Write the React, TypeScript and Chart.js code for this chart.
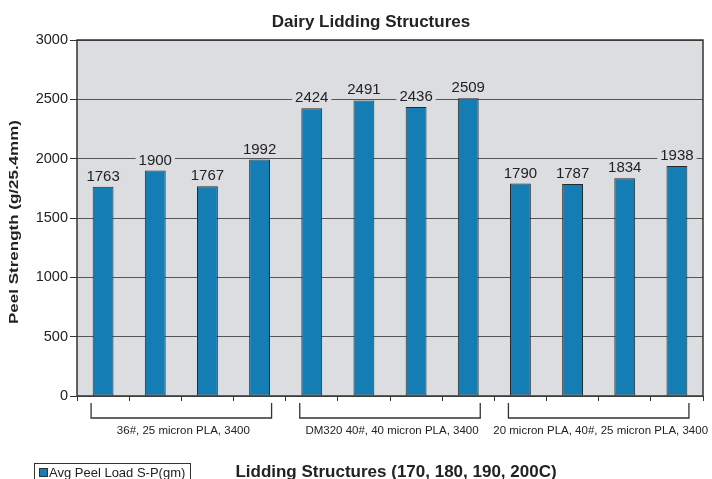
import React, { useEffect, useRef } from "react";
import { Chart, registerables } from "chart.js";

Chart.register(...registerables);

// ---- data ----
const chartTitle = "Dairy Lidding Structures";
const yAxisTitle = "Peel Strength (g/25.4mm)";
const xAxisTitle = "Lidding Structures (170, 180, 190, 200C)";
const seriesName = "Avg Peel Load S-P(gm)";
const groupNames = [
  "36#, 25 micron PLA, 3400",
  "DM320 40#, 40 micron PLA, 3400",
  "20 micron PLA, 40#, 25 micron PLA, 3400",
];
const temperatures = ["170", "180", "190", "200"];
const peelLoad = [1763, 1900, 1767, 1992, 2424, 2491, 2436, 2509, 1790, 1787, 1834, 1938];
const yMin = 0;
const yMax = 3000;
const yStep = 500;

// ---- style ----
const FONT = "'Liberation Sans', Arial, Helvetica, sans-serif";
const BAR = "#137db4";
const BAR_EDGE = "#2a2a2a";
const PLOT_BG = "#dcdde0";
const TEXT = "#222222";
const LINE = "#333333";

const categories = groupNames.flatMap((g) => temperatures.map((t) => `${g} ${t}C`));

const decor = {
  id: "decor",
  beforeDraw(chart: any) {
    const { ctx, chartArea: a } = chart;
    ctx.save();
    ctx.fillStyle = PLOT_BG;
    ctx.fillRect(a.left, a.top, a.right - a.left, a.bottom - a.top);
    ctx.restore();
  },
  afterDatasetsDraw(chart: any) {
    const { ctx } = chart;
    const meta = chart.getDatasetMeta(0);
    ctx.save();
    ctx.font = `15px ${FONT}`;
    ctx.textAlign = "center";
    ctx.textBaseline = "alphabetic";
    meta.data.forEach((el: any, i: number) => {
      const txt = String(chart.data.datasets[0].data[i]);
      const w = ctx.measureText(txt).width;
      const by = el.y - 6;
      ctx.fillStyle = PLOT_BG;
      ctx.fillRect(el.x - w / 2 - 3, by - 12, w + 6, 15);
      ctx.fillStyle = TEXT;
      ctx.fillText(txt, el.x, by);
    });
    ctx.restore();
  },
  afterDraw(chart: any) {
    const { ctx, chartArea: a } = chart;
    const xs = chart.scales.x;
    ctx.save();
    // plot border
    ctx.strokeStyle = LINE;
    ctx.lineWidth = 1.5;
    ctx.strokeRect(a.left, a.top, a.right - a.left, a.bottom - a.top);

    // title
    ctx.fillStyle = TEXT;
    ctx.font = `bold 17px ${FONT}`;
    ctx.textAlign = "center";
    ctx.textBaseline = "alphabetic";
    ctx.fillText(chartTitle, 371, 27);

    // y axis title (stretched along its length as in the reference)
    ctx.save();
    ctx.font = `bold 12px ${FONT}`;
    const yw = ctx.measureText(yAxisTitle).width;
    ctx.translate(17.5, 222);
    ctx.rotate(-Math.PI / 2);
    ctx.scale(204 / yw, 1);
    ctx.fillText(yAxisTitle, 0, 0);
    ctx.restore();

    // group brackets and labels
    ctx.strokeStyle = LINE;
    ctx.lineWidth = 1.3;
    groupNames.forEach((g, gi) => {
      const first = gi * temperatures.length;
      const last = first + temperatures.length - 1;
      const x0 = xs.getPixelForValue(first) - 12;
      const x1 = xs.getPixelForValue(last) + 12;
      ctx.beginPath();
      ctx.moveTo(x0, 403);
      ctx.lineTo(x0, 418);
      ctx.lineTo(x1, 418);
      ctx.lineTo(x1, 403);
      ctx.stroke();
      ctx.font = `11.5px ${FONT}`;
      ctx.fillStyle = TEXT;
      ctx.textAlign = "center";
      ctx.fillText(g, (x0 + x1) / 2 + 2, 434);
    });

    // x axis title
    ctx.font = `bold 17px ${FONT}`;
    ctx.textAlign = "center";
    ctx.fillText(xAxisTitle, 396, 477);

    // legend
    ctx.lineWidth = 1;
    ctx.strokeStyle = LINE;
    ctx.strokeRect(34.5, 463.5, 156, 20);
    ctx.fillStyle = BAR;
    ctx.fillRect(39.5, 468.5, 8, 8);
    ctx.strokeRect(39.5, 468.5, 8, 8);
    ctx.fillStyle = TEXT;
    ctx.font = `13px ${FONT}`;
    ctx.textAlign = "left";
    ctx.fillText(seriesName, 49, 477);
    ctx.restore();
  },
};

export default function App() {
  const canvasRef = useRef<HTMLCanvasElement | null>(null);

  useEffect(() => {
    if (!canvasRef.current) return;
    const chart = new Chart(canvasRef.current, {
      type: "bar",
      data: {
        labels: categories,
        datasets: [
          {
            label: seriesName,
            data: peelLoad,
            backgroundColor: BAR,
            borderColor: BAR_EDGE,
            borderWidth: 1,
            borderSkipped: false,
            barPercentage: 0.4,
            categoryPercentage: 1,
          },
        ],
      },
      options: {
        animation: false,
        responsive: true,
        maintainAspectRatio: false,
        layout: { padding: { left: 0, top: 40, right: 9, bottom: 0 } },
        plugins: {
          legend: { display: false },
          title: { display: false },
          tooltip: { enabled: false },
        },
        scales: {
          x: {
            afterFit: (scale: any) => {
              scale.height = 83;
            },
            ticks: { display: false },
            grid: {
              drawOnChartArea: false,
              drawTicks: true,
              tickLength: 5,
              color: LINE,
              offset: true,
            },
            border: { display: false },
          },
          y: {
            min: yMin,
            max: yMax,
            afterFit: (scale: any) => {
              scale.width = 77;
            },
            ticks: {
              stepSize: yStep,
              padding: 2,
              color: TEXT,
              font: { family: FONT, size: 14.5 },
              callback: (v: any) => String(v),
            },
            grid: {
              color: "#555555",
              tickColor: LINE,
              tickLength: 7,
              lineWidth: 1,
            },
            border: { display: false },
          },
        },
      },
      plugins: [decor],
    });
    return () => chart.destroy();
  }, []);

  return (
    <div style={{ position: "absolute", left: 0, top: 0, width: 712, height: 479, background: "#fff" }}>
      <canvas ref={canvasRef} />
    </div>
  );
}
